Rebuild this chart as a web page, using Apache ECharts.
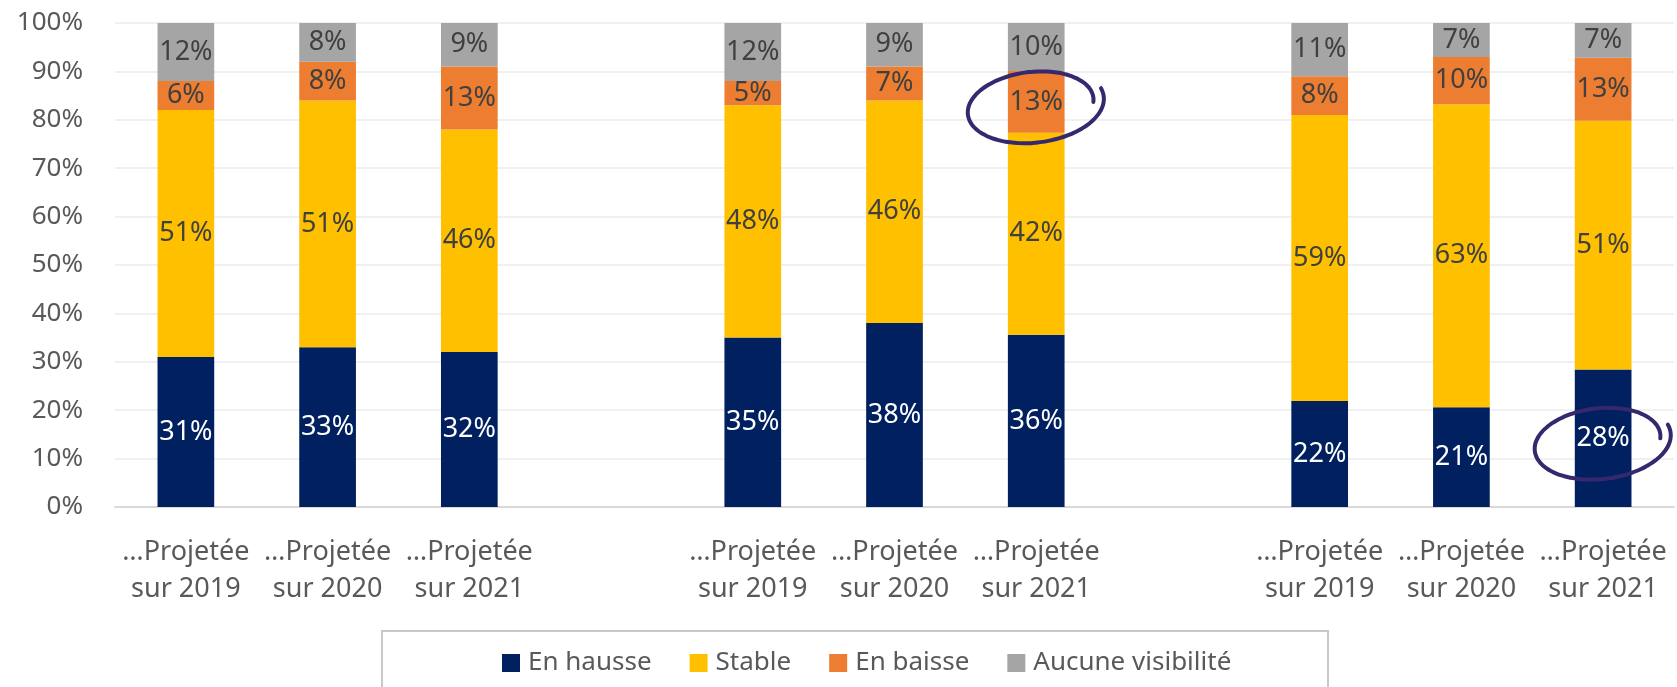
<!DOCTYPE html>
<html>
<head>
<meta charset="utf-8">
<script src="https://cdn.jsdelivr.net/npm/echarts@6/dist/echarts.min.js"></script>
<style>
  html, body { margin: 0; padding: 0; background: #fff; }
  #main { width: 1677px; height: 687px; }
</style>
</head>
<body>
<div id="main"></div>
<script>
  // catégories (une colonne vide entre chaque groupe)
  const categories = [
    '…Projetée\nsur 2019', '…Projetée\nsur 2020', '…Projetée\nsur 2021', '',
    '…Projetée\nsur 2019', '…Projetée\nsur 2020', '…Projetée\nsur 2021', '',
    '…Projetée\nsur 2019', '…Projetée\nsur 2020', '…Projetée\nsur 2021'
  ];
  const enHausse = [31, 33, 32, null, 35, 38, 35.6, null, 21.9, 20.6, 28.4];
  const stable   = [51, 51, 46, null, 48, 46, 41.7, null, 59.1, 62.6, 51.4];
  const enBaisse = [6, 8, 13, null, 5, 7, 12.8, null, 8, 9.8, 13.0];
  const aucune   = [12, 8, 9, null, 12, 9, 9.9, null, 11, 7, 7.2];
  const yTicks = [0, 10, 20, 30, 40, 50, 60, 70, 80, 90, 100];

  // segments entourés à la main : [index catégorie, index série]
  const highlights = [[6, 2], [10, 0]];

  const font = '"Noto Sans", "DejaVu Sans", sans-serif';
  let myChart = echarts.init(document.getElementById('main'));

  function serie(name, data, color, labelColor) {
    return {
      name: name,
      type: 'bar',
      stack: 'total',
      barWidth: '40%',
      data: data,
      itemStyle: { color: color },
      label: {
        show: true,
        position: 'inside',
        color: labelColor,
        fontFamily: font,
        fontSize: 27,
        formatter: function (p) { return Math.round(p.value) + '%'; }
      }
    };
  }

  let option = {
    animation: false,
    grid: { left: 115, right: 3, top: 23, bottom: 180 },
    legend: {
      left: 497,
      top: 645,
      itemWidth: 18,
      itemHeight: 18,
      itemGap: 38,
      icon: 'rect',
      textStyle: { fontFamily: font, fontSize: 26, color: '#595959', padding: [0, 0, 0, 3] },
      data: ['En hausse', 'Stable', 'En baisse', 'Aucune visibilité']
    },
    xAxis: {
      type: 'category',
      data: categories,
      axisTick: { show: false },
      axisLine: { lineStyle: { color: '#D9D9D9', width: 2 } },
      axisLabel: {
        interval: 0,
        margin: 27,
        lineHeight: 37,
        fontFamily: font,
        fontSize: 27,
        color: '#595959'
      }
    },
    yAxis: {
      type: 'value',
      min: yTicks[0],
      max: yTicks[yTicks.length - 1],
      interval: 10,
      axisLabel: {
        margin: 32,
        fontFamily: font,
        fontSize: 26,
        color: '#595959',
        formatter: '{value}%'
      },
      splitLine: { lineStyle: { color: '#F0F0F0', width: 2 } }
    },
    graphic: [{
      type: 'rect',
      shape: { x: 382, y: 631, width: 946, height: 90 },
      style: { fill: null, stroke: '#C8C8C8', lineWidth: 2 },
      silent: true
    }],
    series: [
      serie('En hausse', enHausse, '#002060', '#FFFFFF'),
      serie('Stable', stable, '#FFC000', '#404040'),
      serie('En baisse', enBaisse, '#ED7D31', '#404040'),
      serie('Aucune visibilité', aucune, '#A5A5A5', '#404040')
    ]
  };
  myChart.setOption(option);

  // cercles dessinés à la main
  const allSeries = [enHausse, stable, enBaisse, aucune];
  let circles = highlights.map(function (h) {
    let cat = h[0], s = h[1];
    let base = 0;
    for (let i = 0; i < s; i++) base += allSeries[i][cat];
    let mid = base + allSeries[s][cat] / 2;
    let c = myChart.convertToPixel({ seriesIndex: 0 }, [cat, mid]);
    let cx = c[0] - 3, cy = c[1] + 4;
    let a = 65, b = 35, phi = -7 * Math.PI / 180;
    let t0 = -14, t1 = 368, pts = [];
    for (let t = t0; t <= t1; t += 4) {
      let r = t * Math.PI / 180;
      let k = 1.1 - 0.17 * (t - t0) / (t1 - t0);
      let x = k * a * Math.cos(r), y = k * b * Math.sin(r);
      pts.push([cx + x * Math.cos(phi) - y * Math.sin(phi),
                cy + x * Math.sin(phi) + y * Math.cos(phi)]);
    }
    return {
      type: 'polyline',
      z: 100,
      silent: true,
      shape: { points: pts, smooth: 0.3 },
      style: { fill: null, stroke: '#35286E', lineWidth: 4, lineCap: 'round' }
    };
  });
  myChart.setOption({ graphic: option.graphic.concat(circles) });
</script>
</body>
</html>
